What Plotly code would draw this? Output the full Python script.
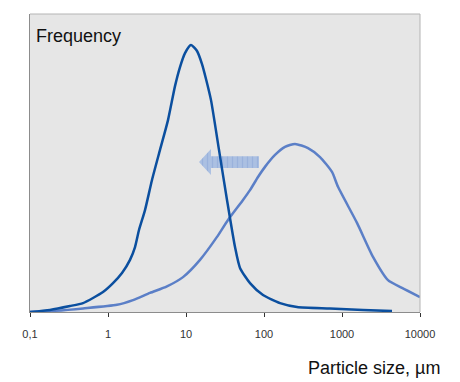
import plotly.graph_objects as go

# Particle size (µm) and frequency for the two distributions
fine_size = [0.1, 0.1805, 0.3257, 0.4782, 0.6423, 0.8627, 1.159, 1.512, 1.915, 2.220, 2.497,
             2.982, 3.665, 4.642, 5.878, 7.228, 8.377, 9.710, 11.59, 13.84, 16.04, 18.05,
             20.92, 26.49, 33.55, 42.49, 49.24, 66.15, 97.1, 160.4, 264.9, 701.9, 1858, 4375]
fine_freq = [0.0, 0.007, 0.020, 0.030, 0.047, 0.067, 0.097, 0.131, 0.175, 0.218, 0.275,
             0.342, 0.443, 0.544, 0.644, 0.758, 0.822, 0.869, 0.896, 0.876, 0.832, 0.782,
             0.711, 0.544, 0.376, 0.218, 0.148, 0.097, 0.057, 0.030, 0.017, 0.012, 0.007, 0.003]

coarse_size = [0.1, 0.1805, 0.4782, 1.304, 2.092, 3.455, 5.706, 9.153, 15.12, 24.97, 34.55, 53.8,
               66.15, 83.77, 103.0, 138.4, 185.8, 249.7, 366.6, 522.4, 744.3, 888.8, 1557,
               2497, 3887, 5878, 10000]
coarse_freq = [0.0, 0.003, 0.012, 0.024, 0.040, 0.064, 0.086, 0.117, 0.175, 0.252, 0.309, 0.376,
               0.409, 0.453, 0.487, 0.527, 0.554, 0.564, 0.550, 0.520, 0.470, 0.420, 0.299,
               0.185, 0.107, 0.081, 0.050]

# Decorative arrow (shift toward finer sizes)
arrow_x = [14.68, 20.9, 20.9, 86.3, 86.3, 20.9, 20.9, 14.68]
arrow_y = [0.503, 0.547, 0.523, 0.523, 0.483, 0.483, 0.460, 0.503]

tick_vals = [0.1, 1, 10, 100, 1000, 10000]
tick_text = ["0,1", "1", "10", "100", "1000", "10000"]

FONT = "Liberation Sans, Arial, sans-serif"

fig = go.Figure()
fig.add_trace(go.Scatter(
    x=arrow_x, y=arrow_y, mode="lines", fill="toself",
    line=dict(width=0, color="rgba(0,0,0,0)"),
    fillcolor="#a9bde0",
    fillpattern=dict(shape="|", bgcolor="#abc0e2", fgcolor="#8aa4d6", size=5, solidity=0.25),
    hoverinfo="skip", showlegend=False))
fig.add_trace(go.Scatter(
    x=coarse_size, y=coarse_freq, mode="lines", line=dict(color="#5b7fc7", width=2.5, shape="spline", smoothing=0.6),
    showlegend=False))
fig.add_trace(go.Scatter(
    x=fine_size, y=fine_freq, mode="lines", line=dict(color="#0b4f9f", width=2.5, shape="spline", smoothing=0.6),
    showlegend=False))

# page body has an 8px margin, so the figure is drawn 8px in from the top-left corner
fig.update_layout(
    width=452, height=374,
    margin=dict(l=22, r=40, t=6, b=70),
    paper_bgcolor="white", plot_bgcolor="#e6e6e6",
    font=dict(family=FONT, color="#222"),
    xaxis=dict(type="log", range=[-1, 4], tickvals=tick_vals, ticktext=tick_text,
               showgrid=False, zeroline=False, showline=True, linecolor="#8c8c8c", linewidth=1,
               ticks="outside", ticklen=4, tickcolor="#333", tickwidth=1,
               tickfont=dict(size=11, color="#333", family=FONT), ticklabelstandoff=8),
    yaxis=dict(range=[0, 1], showgrid=False, zeroline=False, showticklabels=False,
               showline=True, linecolor="#8c8c8c", linewidth=1),
    shapes=[dict(type="line", xref="paper", yref="paper", x0=0, x1=1, y0=1, y1=1,
                 line=dict(color="#b4b4b4", width=1)),
            dict(type="line", xref="paper", yref="paper", x0=1, x1=1, y0=0, y1=1,
                 line=dict(color="#b4b4b4", width=1))],
    annotations=[
        dict(text="Frequency", xref="paper", yref="paper", x=(34 - 30) / 390, y=(312 - 36) / 298,
             xanchor="left", yanchor="middle", showarrow=False, font=dict(size=18, color="#111", family=FONT)),
        dict(text="Particle size, µm", xref="paper", yref="paper", x=(442 - 30) / 390, y=(312 - 368) / 298,
             xanchor="right", yanchor="middle", showarrow=False, font=dict(size=18, color="#111", family=FONT)),
    ],
)

fig.write_html("out.html")
